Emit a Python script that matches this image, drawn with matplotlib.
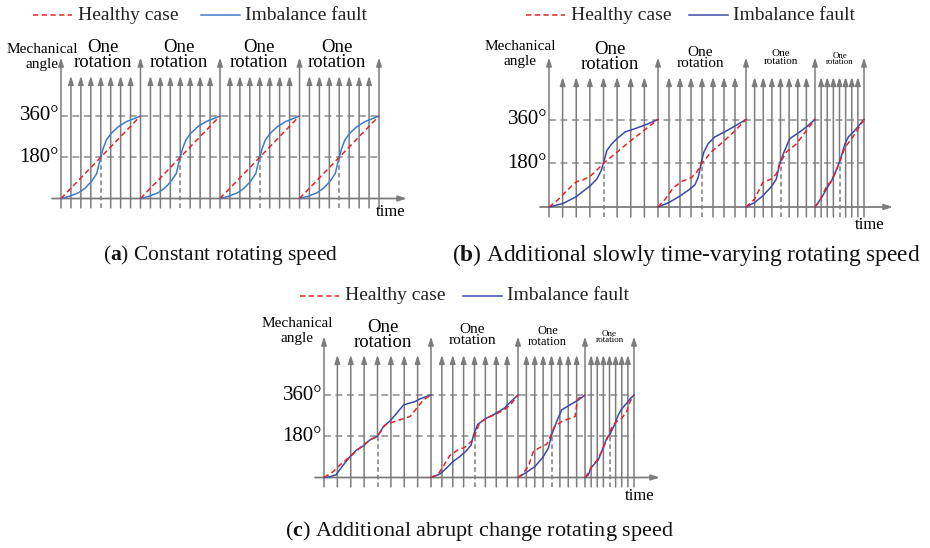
import matplotlib.pyplot as plt
import numpy as np

plt.rcParams['mathtext.fontset'] = 'custom'
plt.rcParams['mathtext.rm'] = 'Liberation Serif'
plt.rcParams['mathtext.bf'] = 'Liberation Serif:bold'

W, H = 930, 548
SERIF = ['Liberation Serif', 'DejaVu Serif']
RED = '#e3242b'
GRAY = '#7c7c7c'
DGRAY = '#8c8c8c'

healthy_label = 'Healthy case'
fault_label = 'Imbalance fault'
captions = [('a', ' Constant rotating speed'),
            ('b', ' Additional slowly time-varying rotating speed'),
            ('c', ' Additional abrupt change rotating speed')]

# ---- (a) constant speed: rotation start/end times, same curve each rotation
a_bounds = [0, 79.5, 159, 238.5, 318]
a_healthy_u = [0, 1]
a_healthy = [0, 360]
a_fault_u = [0, .11, .22, .30, .38, .45, .475, .5, .53, .57, .63, .72, .82, .93, 1]
a_fault = [0, 10, 25, 44, 73, 109, 146, 180, 218, 255, 284, 313, 335, 350, 360]

# ---- (b) slowly time-varying speed
b_bounds = [0, 109, 197, 266, 315]
b_healthy_u = [[0, .071, .147, .209, .252, .313, .374, .436, .5, .623, .745, .874, 1],
               [0, .082, .176, .27, .382, .438, .5, .6, .72, .85, 1],
               [0, .122, .244, .366, .439, .49, .585, .732, .878, 1],
               [0, .102, .238, .34, .476, .612, .748, .884, 1]]
b_healthy = [[0, 25, 60, 87, 104, 112, 125, 150, 180, 226, 271, 316, 360],
             [0, 32, 80, 105, 122, 143, 180, 225, 262, 305, 360],
             [0, 32, 101, 115, 136, 180, 226, 260, 316, 360],
             [0, 25, 87, 108, 170, 246, 281, 323, 360]]
b_fault_u = [[0, .126, .248, .377, .439, .479, .5, .531, .577, .623, .699, .761, .874, 1],
             [0, .12, .236, .345, .419, .457, .49, .52, .569, .644, .757, .869, 1],
             [0, .122, .244, .366, .439, .49, .561, .634, .78, .878, 1],
             [0, .136, .252, .34, .442, .51, .612, .68, .816, 1]]
b_fault = [[0, 14, 42, 87, 115, 150, 180, 233, 260, 281, 309, 318, 336, 360],
           [0, 18, 42, 69, 91, 122, 180, 225, 260, 288, 309, 332, 360],
           [0, 18, 46, 83, 115, 180, 233, 281, 309, 330, 360],
           [0, 39, 80, 108, 156, 191, 260, 288, 316, 360]]

# ---- (c) abrupt change speed
c_bounds = [0, 107, 194, 261, 310]
c_healthy_u = [[0, .087, .15, .243, .305, .368, .43, .5, .57, .632, .726, .804, .866, .928, 1],
               [0, .083, .14, .216, .311, .386, .462, .5, .557, .633, .727, .841, .917, 1],
               [0, .055, .154, .229, .328, .428, .493, .542, .652, .776, .851, .876, .9, 1],
               [0, .034, .136, .238, .34, .442, .544, .646, .748, .85, .918, 1]]
c_healthy = [[0, 26, 55, 91, 116, 142, 164, 180, 229, 240, 254, 266, 302, 338, 360],
             [0, 15, 48, 96, 121, 131, 157, 180, 237, 258, 273, 295, 319, 360],
             [0, 12, 48, 113, 131, 145, 186, 222, 244, 258, 266, 316, 345, 360],
             [0, 9, 48, 73, 113, 164, 218, 244, 258, 287, 331, 360]]
c_fault_u = [[0, .056, .112, .181, .243, .305, .368, .43, .5, .555, .617, .679, .742, .788, .85, .897, 1],
             [0, .102, .178, .254, .33, .405, .462, .489, .538, .633, .727, .841, .917, 1],
             [0, .129, .254, .378, .453, .502, .577, .652, .776, .9, 1],
             [0, .068, .122, .204, .272, .354, .442, .51, .599, .68, .748, .85, .918, 1]]
c_fault = [[0, 3, 12, 55, 91, 120, 138, 164, 180, 222, 247, 280, 316, 323, 331, 343, 360],
           [0, 15, 41, 70, 91, 116, 142, 186, 232, 258, 276, 302, 331, 360],
           [0, 23, 48, 91, 128, 186, 244, 295, 317, 338, 360],
           [0, 12, 41, 62, 77, 121, 171, 189, 229, 273, 299, 324, 343, 360]]

fig = plt.figure(figsize=(W / 100, H / 100), dpi=100)

# overlay in pixel coordinates for legends and captions
ov = fig.add_axes([0, 0, 1, 1])
ov.set_xlim(0, W)
ov.set_ylim(H, 0)
ov.axis('off')


def arrow(ax, x0, y0, x1, y1, lw=1.1):
    ax.annotate('', xy=(x1, y1), xytext=(x0, y0),
                arrowprops=dict(arrowstyle='-|>,head_width=0.16,head_length=0.5',
                                color=GRAY, lw=lw, shrinkA=0, shrinkB=0))


def panel(ox, oy, k, bounds, hu, hv, fu, fv, blue, x_end, rot_sizes, rot_y, rot_dx, lab):
    ax = fig.add_axes([0, 0, 1, 1])
    ax.set_xlim(-ox, W - ox)
    ax.set_ylim(-(H - oy) / k, oy / k)
    ax.axis('off')
    low, tall, short = -41, 615, 535
    # dashed reference levels
    for lev in (180, 360):
        ax.plot([0, bounds[-1]], [lev, lev], ls=(0, (4.5, 3)), color=DGRAY, lw=1.1)
    # time axis
    arrow(ax, -9, 0, x_end, 0, lw=1.3)
    for i in range(len(bounds) - 1):
        t0, t1 = bounds[i], bounds[i + 1]
        sub = np.linspace(t0, t1, 9)[1:-1]
        for j, t in enumerate(sub):
            if j == 3:
                ax.plot([t, t], [low, 180], ls=(0, (3, 2)), color=GRAY, lw=1.1)
                arrow(ax, t, 180, t, short)
            else:
                arrow(ax, t, low, t, short)
        u = np.asarray(hu[i])
        ax.plot(t0 + u * (t1 - t0), hv[i], ls=(0, (3.5, 2.2)), color=RED, lw=1.1, zorder=5)
        u = np.asarray(fu[i])
        ax.plot(t0 + u * (t1 - t0), fv[i], color=blue, lw=1.1, zorder=4)
        c = (t0 + t1) / 2 + rot_dx[i]
        ax.text(c, (oy - rot_y[i]) / k, 'One\nrotation', ha='center', va='center',
                multialignment='center', linespacing=0.82,
                family=SERIF, fontsize=rot_sizes[i])
    for t in bounds:
        arrow(ax, t, low, t, tall)
    for lev in (180, 360):
        ax.text(-2, lev, f'{lev}°', ha='right', va='center', family=SERIF, fontsize=15)
    mx, my, tx, ty = lab
    ax.text(mx - ox, (oy - my) / k, 'Mechanical\nangle', ha='center', va='center',
            multialignment='center', linespacing=1.15, family=SERIF, fontsize=11)
    ax.text(tx - ox, (oy - ty) / k, 'time', ha='center', va='center', family=SERIF, fontsize=12)


panel(61, 198.5, 82.5 / 360, a_bounds,
      [a_healthy_u] * 4, [a_healthy] * 4, [a_fault_u] * 4, [a_fault] * 4,
      '#3d7cc9', 346, [13.5] * 4, [55] * 4, [2, -1, -1, -2], (42, 57, 391, 212))
panel(549, 207, 87.5 / 360, b_bounds, b_healthy_u, b_healthy, b_fault_u, b_fault,
      '#3c4aa6', 344, [13.5, 11, 8, 6.3], [57, 58, 57.5, 59], [6, -2, 0, 0],
      (520, 54, 870, 225))
panel(324, 477.5, 82.5 / 360, c_bounds, c_healthy_u, c_healthy, c_fault_u, c_fault,
      '#3c4aa6', 336, [13.5, 11, 9, 6.5], [335, 335, 336.5, 337], [5, -2, -4, 0],
      (297, 331, 640, 496))

# legends
for (x0, y, bx) in [(33, 15, 201), (526, 15, 689), (300, 296, 463)]:
    ov.plot([x0, x0 + 39], [y, y], ls=(0, (3.5, 2.2)), color=RED, lw=1.1)
    ov.text(x0 + 45, y, healthy_label, ha='left', va='center', family=SERIF, fontsize=14, color='#222222')
    ov.plot([bx, bx + 39], [y, y], color='#3d7cc9' if x0 == 33 else '#3c4aa6', lw=1.1)
    ov.text(bx + 44, y, fault_label, ha='left', va='center', family=SERIF, fontsize=14, color='#222222')

# captions
for (letter, rest), (cx, cy, fs) in zip(captions, [(221, 255, 15.5), (686, 255, 16.8), (480, 531, 16)]):
    ov.text(cx, cy, r'($\mathbf{' + letter + r'}$)' + rest, ha='center', va='center',
            family=SERIF, fontsize=fs, color='#111111')

fig.savefig('out.png', dpi=100)
